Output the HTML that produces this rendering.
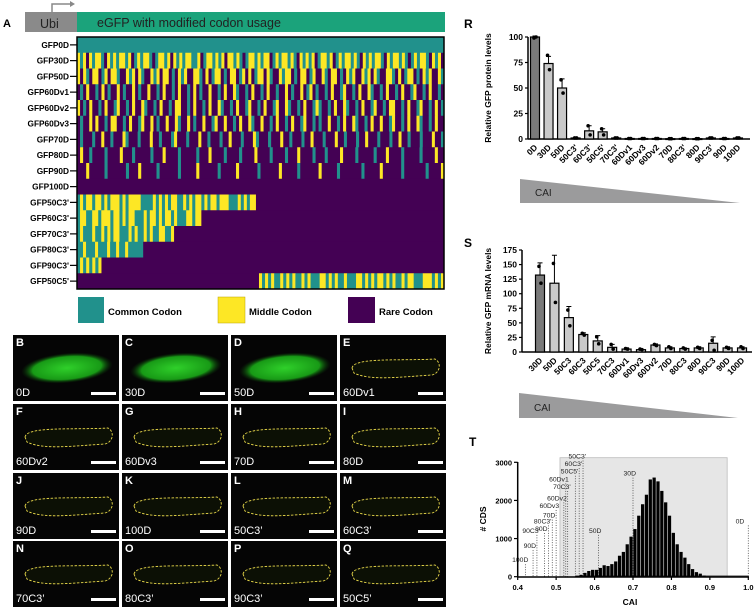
<!DOCTYPE html>
<html><head><meta charset="utf-8">
<style>
html,body{margin:0;padding:0;background:#fff;}
svg{display:block;font-family:"Liberation Sans",Arial,sans-serif;}
</style></head>
<body>
<svg id="fig" width="755" height="609" viewBox="0 0 755 609" xmlns="http://www.w3.org/2000/svg">
<defs>
<radialGradient id="glow" cx="50%" cy="50%" r="50%">
<stop offset="0" stop-color="#2fd02a"/><stop offset="0.75" stop-color="#189a16"/><stop offset="1" stop-color="#0a3a08" stop-opacity="0"/>
</radialGradient>
</defs>
<text x="3" y="27" font-size="11" font-weight="bold">A</text>
<rect x="25" y="12" width="52" height="20" fill="#8a8a8a"/>
<text x="40" y="28" font-size="12.5" fill="#222">Ubi</text>
<path d="M52 12 V4 H72" fill="none" stroke="#888" stroke-width="1.5"/>
<path d="M70 1 L75 4 L70 7 Z" fill="#888"/>
<rect x="77" y="12" width="368" height="20" fill="#1ba37b"/>
<text x="97" y="27" font-size="12.5" fill="#222">eGFP with modified codon usage</text>
<g id="heat"></g>
<g id="legend">
<rect x="78" y="297" width="26" height="26" fill="#21918c"/>
<text x="108" y="315" font-size="9.5" font-weight="bold">Common Codon</text>
<rect x="218" y="297" width="27" height="26" fill="#fde725" stroke="#bba300" stroke-width="0.5"/>
<text x="249" y="315" font-size="9.5" font-weight="bold">Middle Codon</text>
<rect x="348" y="297" width="27" height="26" fill="#440154"/>
<text x="379" y="315" font-size="9.5" font-weight="bold">Rare Codon</text>
</g>
<g id="photos"></g>
<g id="chartR"></g>
<g id="chartS"></g>
<g id="chartT"></g>
</svg>
<script>
// ---------- Heatmap data ----------
const heatRowNames = ["GFP0D","GFP30D","GFP50D","GFP60Dv1","GFP60Dv2","GFP60Dv3","GFP70D","GFP80D","GFP90D","GFP100D","GFP50C3'","GFP60C3'","GFP70C3'","GFP80C3'","GFP90C3'","GFP50C5'"];
const heatRows = [
"cccccccccccccccccccccccccccccccccccccccccccccccccccccccccccccccccccccccccccccccccccccccccccccccccccccccccccccccccccccccccccc",
"mcmrmcmmcrmcmcmmcmrcmcmmcrcmmcmrmcmcmmccmrcmmcmcmrmmcmcrcmmcmcmmrcmcmmcmcrmcmcmrcmmcmrcmcmmcmcrmcmcmmcrmcmmcmcrcmcmmcrmcmr",
"mrmcrmmrcmrmmcrrmcmrmcrrmcmrmmrcrmcmrrmmcrmrcmmrcrmmrcmrmrcmmrmcrrmcmmrcrmmrcmrrmcrmmrcrmcmrrmcmrmcrrmmcrmrcmmrcrmcmrrmc",
"rcrmrrcrmrcrrmrcrrmrcrrmrrcrmrrcrmrrcrmrcrrmrrcrmrrmcrrcrmrrcrmrrcrrmrcrrmrcmrcrrcrmrrcmrrcrmrrmcrrcrmrrcrmrrcmrrcrmrrcr",
"mrcrmrrcrmrrcmrrcrmrrmcrrcrmrrcrmmrrcrmrrcrmrrmcrrcrmrrcmrrcrmrrcmrrmcrrcrmrrcmcrrcrmrrmcrrcrmrrcmrrcrmmrrcrmrrcmrrcrmrc",
"rcrrmrmrrcrmmrrcrmrrcmrrmrcrrmrrmcrrmrcrrmrrcmrrmrrcrmrrmcrrmrrcrmrrcrmrrcmrrcrcrrmrrcrmrrmcrrcrmrrmrrcmrrcrmrrmcrrcrmrr",
"rcrrrcrrmrrcrrrmcrrrcrrrmrrcrrrcmrrrcrrrmrrcrrrcrrmrrrcrrrmcrrrcrrrmrrcrrrcrrmrrrcrrrmrrcrrrcrrmrrrcrrrcrrmrrcrrrcrrrmrrc",
"rmrrcrrrrcrrrrmrrrcrrrrrcrrrmrrrrcrrrrrcrrrmrrrrcrrrrcrrrrmrrrrcrrrrcrrrmrrrrcrrrcrrrrmrrrrcrrrrrcrrrmrrrrcrrrrrcrrrrmrr",
"rrrmrrrrrcrrrrrrcrrrmrrrrrcrrrrrrcrrrrrmrrrrrrcrrrrrmrrrrrrcrrrrrrmrrrrrcrrrrrrmrrrrrcrrrrrrrcrrrrrmrrrrrrcrrrrrrrcrrrrm",
"rrrrrrrrrrrrrrrrrrrrrrrrrrrrrrrrrrrrrrrrrrrrrrrrrrrrrrrrrrrrrrrrrrrrrrrrrrrrrrrrrrrrrrrrrrrrrrrrrrrrrrrrrrrrrrrrrrrrrrrr",
"cmcmmcmmcmcmmmcmcmmmmccccmcmcmcmmccmcmcmmcmcmmcmmmcccmcmcmmrrrrrrrrrrrrrrrrrrrrrrrrrrrrrrrrrrrrrrrrrrrrrrrrrrrrrrrrrrrrrr",
"cmmccmmcmmmcmmcmcmmcccmcmmcmcmmcmcccmmcmmrrrrrrrrrrrrrrrrrrrrrrrrrrrrrrrrrrrrrrrrrrrrrrrrrrrrrrrrrrrrrrrrrrrrrrrrrrrrrrrr",
"cmcccmccmcmcmmcccmcmccmcmccmmccmrrrrrrrrrrrrrrrrrrrrrrrrrrrrrrrrrrrrrrrrrrrrrrrrrrrrrrrrrrrrrrrrrrrrrrrrrrrrrrrrrrrrrrrrr",
"ccmcccmcccmccmccmcccccrrrrrrrrrrrrrrrrrrrrrrrrrrrrrrrrrrrrrrrrrrrrrrrrrrrrrrrrrrrrrrrrrrrrrrrrrrrrrrrrrrrrrrrrrrrrrrrrrrrr",
"cmcmcmcmrrrrrrrrrrrrrrrrrrrrrrrrrrrrrrrrrrrrrrrrrrrrrrrrrrrrrrrrrrrrrrrrrrrrrrrrrrrrrrrrrrrrrrrrrrrrrrrrrrrrrrrrrrrrrrrr",
"rrrrrrrrrrrrrrrrrrrrrrrrrrrrrrrrrrrrrrrrrrrrrrrrrrrrrrrrrrrrmcmcmccmcmcmccmcmcccmmcmcmccmcccmmcmcmcmmcmcmccmcmmcccmmmcmcm"
];
// ---------- Chart R data (protein) ----------
const rCats = ["0D","30D","50D","50C3'","60C3'","50C5'","70C3'","60Dv1","60Dv3","60Dv2","70D","80C3'","80D","90C3'","90D","100D"];
const rVals = [100,74,50,1,8,7,1,0.5,0.5,0.5,0.3,0.5,0.3,1,0.5,1];
const rErr  = [1,7,9,0.5,5,3,0.5,0.5,0.5,0.5,0.3,0.3,0.3,0.5,0.5,0.5];
const rPtsA = [99,82,58,1,13,10,1,0.5,0.5,0.5,0.3,0.5,0.3,1,0.5,1];
const rPtsB = [100,68,45,1,4,4,1,0.5,0.5,0.5,0.3,0.5,0.3,1,0.5,1];
const rTicks = [0,25,50,75,100];
// ---------- Chart S data (mRNA) ----------
const sCats = ["30D","50D","50C3","60C3","50C5","70C3","60Dv1","60Dv3","60Dv2","70D","80C3","80D","90C3","90D","100D"];
const sVals = [132,118,59,30,19,8,5,4,12,7,6,7,15,7,7];
const sErr  = [21,48,19,3,9,5,2,1,2,2,1,2,11,2,2];
const sPtsA = [147,152,72,32,26,13,6,5,13,9,7,8,20,8,9];
const sPtsB = [118,85,45,29,14,5,5,4,11,6,5,6,3,6,6];
const sTicks = [0,25,50,75,100,125,150,175];
// ---------- Chart T data (histogram) ----------
const tBins = [0.55,0.56,0.57,0.58,0.59,0.60,0.61,0.62,0.63,0.64,0.65,0.66,0.67,0.68,0.69,0.70,0.71,0.72,0.73,0.74,0.75,0.76,0.77,0.78,0.79,0.80,0.81,0.82,0.83,0.84,0.85,0.86,0.87,0.88];
const tCounts = [20,50,100,150,180,180,230,300,280,330,400,550,650,850,1050,1250,1600,1900,2150,2550,2600,2500,2250,1950,1600,1150,850,650,500,330,200,120,80,30];
const tMarkNames = ["100D","90D","90C3'","80D","80C3'","70D","60Dv3","60Dv2","70C3'","60Dv1","50C5'","60C3'","50C3'","50D","30D","0D"];
const tMarkCAI   = [0.42,0.44,0.45,0.47,0.48,0.49,0.50,0.52,0.53,0.525,0.55,0.56,0.57,0.61,0.70,1.0];
const tMarkLabelY= [380,750,1150,1200,1400,1550,1800,2000,2300,2500,2700,2900,3100,1150,2650,1400];
const tXTicks = [0.4,0.5,0.6,0.7,0.8,0.9,1.0];
const tYTicks = [0,1000,2000,3000];

const NS="http://www.w3.org/2000/svg";
function mk(tag, attrs, parent, txt){
  const e=document.createElementNS(NS,tag);
  for(const k in attrs) e.setAttribute(k,attrs[k]);
  if(txt!==undefined) e.textContent=txt;
  parent.appendChild(e); return e;
}

// ---------- Heatmap ----------
(function(){
  const g=document.getElementById('heat');
  const X0=77,X1=444,Y0=37,Y1=289;
  const rh=(Y1-Y0)/heatRows.length;
  const col={c:"#21918c",m:"#fde725",r:"#440154"};
  heatRows.forEach((row,i)=>{
    const cw=(X1-X0)/row.length;
    let j=0;
    while(j<row.length){
      let k=j; while(k<row.length&&row[k]===row[j]) k++;
      const r=mk('rect',{x:X0+j*cw,y:Y0+i*rh,width:(k-j)*cw+0.3,height:rh+0.3,fill:col[row[j]]},g);
      
      
      j=k;
    }
    const t=mk('text',{x:69,y:Y0+i*rh+rh/2+3,'font-size':8.3,'font-weight':'bold','text-anchor':'end'},g,heatRowNames[i]);
    
    
    const tk=mk('line',{x1:70,x2:77,y1:Y0+i*rh+rh/2,y2:Y0+i*rh+rh/2,stroke:'#000','stroke-width':1.2},g);
    
    
  });
  const b=mk('rect',{x:X0,y:Y0,width:X1-X0,height:Y1-Y0,fill:'none',stroke:'#000','stroke-width':1.5},g);
  
  
})();

// ---------- Photos ----------
const photoLetters=["B","C","D","E","F","G","H","I","J","K","L","M","N","O","P","Q"];
const photoNames=["0D","30D","50D","60Dv1","60Dv2","60Dv3","70D","80D","90D","100D","50C3’","60C3’","70C3’","80C3’","90C3’","50C5’"];
(function(){
  const g=document.getElementById('photos');
  const cx=[13,122,231,340], ry=[335,404,473,541];
  for(let i=0;i<16;i++){
    const x=cx[i%4], y=ry[Math.floor(i/4)];
    const p=mk('g',{},g);
    
    
    mk('rect',{x:x,y:y,width:106,height:66,fill:'#050505'},p);
    if(i<3){
      mk('ellipse',{cx:x+54,cy:y+33,rx:46,ry:15,fill:'url(#glow)',transform:`rotate(-5 ${x+54} ${y+33})`},p);
    }else{
      const d=`M${x+12} ${y+33} C${x+14} ${y+22} ${x+60} ${y+26} ${x+95} ${y+24} C${x+102} ${y+28} ${x+100} ${y+38} ${x+92} ${y+40} C${x+60} ${y+42} ${x+30} ${y+46} ${x+14} ${y+38} Z`;
      const o=mk('path',{d:d,fill:'#0c1005',stroke:'#e8d84a','stroke-width':0.9,'stroke-dasharray':'2.5 1.5'},p);
      
      
    }
    mk('text',{x:x+3,y:y+11,'font-size':11,'font-weight':'bold',fill:'#fff'},p,photoLetters[i]);
    mk('text',{x:x+3,y:y+61,'font-size':11,fill:'#fff'},p,photoNames[i]);
    mk('rect',{x:x+78,y:y+57,width:25,height:3,fill:'#fff'},p);
  }
})();

// ---------- Bar charts ----------
function barChart(gid, cats, vals, errs, pa, pb, ticks, o){
  const g=document.getElementById(gid);
  const y=v=>o.y0-(v/o.ymax)*(o.y0-o.y1);
  const x=i=>o.xc0+i*o.step;
  mk('line',{x1:o.ax,x2:o.ax,y1:o.y1,y2:o.y0,stroke:'#000','stroke-width':1.5},g);
  mk('line',{x1:o.ax,x2:o.axEnd,y1:o.y0,y2:o.y0,stroke:'#000','stroke-width':1.5},g);
  ticks.forEach(t=>{
    mk('line',{x1:o.ax-3,x2:o.ax,y1:y(t),y2:y(t),stroke:'#000','stroke-width':1.2},g);
    const tl=mk('text',{x:o.ax-5,y:y(t)+3,'font-size':8.5,'font-weight':'bold','text-anchor':'end'},g,t);
    
    
  });
  const tt=mk('text',{x:0,y:0,'font-size':8.5,'font-weight':'bold','text-anchor':'middle',transform:`translate(${o.titleX} ${(o.y0+o.y1)/2}) rotate(-90)`},g,o.title);
  
  
  cats.forEach((c,i)=>{
    const bw=9;
    const bar=mk('rect',{x:x(i)-bw/2,y:y(vals[i]),width:bw,height:Math.max(0.8,o.y0-y(vals[i])),fill:i===0?'#7a7a7a':'#c9c9c9',stroke:'#000','stroke-width':1.2},g);
    
    
    const top=y(vals[i]+errs[i]);
    const eb=mk('path',{d:`M${x(i)} ${y(vals[i])} V${top} M${x(i)-2.5} ${top} H${x(i)+2.5}`,stroke:'#000','stroke-width':1,fill:'none'},g);
    
    
    [pa[i],pb[i]].forEach((v,k)=>{
      const pt=mk('circle',{cx:x(i)+(k?1:-1),cy:y(v),r:1.8,fill:'#000'},g);
      
      
    });
    const lb=mk('text',{x:0,y:0,'font-size':8.5,'font-weight':'bold','text-anchor':'end',transform:`translate(${x(i)+3} ${o.y0+9}) rotate(-45)`},g,c);
    
    
  });
  const tri=mk('path',{d:`M${o.triX0} ${o.triY0} L${o.triX1} ${o.triY1} L${o.triX0} ${o.triY1} Z`,fill:'#9b9b9c'},g);
  
  
  const ct=mk('text',{x:o.triX0+15,y:o.triY1-7,'font-size':10,fill:'#222'},g,'CAI');
  
  
  const pl=mk('text',{x:o.plX,y:o.plY,'font-size':12,'font-weight':'bold'},g,o.panel);
  
  
}
barChart('chartR',rCats,rVals,rErr,rPtsA,rPtsB,rTicks,{
  y0:139,y1:37,ymax:100,ax:528,axEnd:750,xc0:535,step:13.53,title:'Relative GFP protein levels',titleX:491,
  triX0:520,triX1:740,triY0:179,triY1:203,panel:'R',plX:464,plY:28});
barChart('chartS',sCats,sVals,sErr,sPtsA,sPtsB,sTicks,{
  y0:352,y1:250,ymax:175,ax:522,axEnd:752,xc0:540,step:14.43,title:'Relative GFP mRNA levels',titleX:491,
  triX0:519,triX1:738,triY0:393,triY1:418,panel:'S',plX:464,plY:247});

// ---------- Histogram ----------
(function(){
  const g=document.getElementById('chartT');
  const X=v=>517.7+(v-0.4)/0.6*(748.3-517.7);
  const Y=v=>576.7-v/3000*(576.7-462.3);
  const sh=mk('rect',{x:X(0.51),y:457.7,width:X(0.945)-X(0.51),height:576.7-457.7,fill:'#e6e6e6',stroke:'#bbb','stroke-width':0.8},g);
  
  
  tMarkNames.forEach((n,i)=>{
    const xx=X(tMarkCAI[i]), ly=Y(tMarkLabelY[i]);
    const l=mk('line',{x1:xx,x2:xx,y1:ly+2,y2:576.7,stroke:'#444','stroke-width':0.8,'stroke-dasharray':'1 1.5'},g);
    
    
    const t=mk('text',{x:xx+(i===15?-4:3),y:ly,'font-size':6.8,fill:'#222','text-anchor':'end'},g,n);
    
    
  });
  const bw=X(0.41)-X(0.4);
  tBins.forEach((b,i)=>{
    const r=mk('rect',{x:X(b)+0.3,y:Y(tCounts[i]),width:bw-0.6,height:576.7-Y(tCounts[i]),fill:'#000'},g);
    
    
  });
  mk('line',{x1:X(0.55),x2:X(1.0),y1:576,y2:576,stroke:'#000','stroke-width':0.8},g);
  mk('line',{x1:517.7,x2:517.7,y1:462,y2:577,stroke:'#000','stroke-width':1.5},g);
  mk('line',{x1:517.7,x2:749,y1:577,y2:577,stroke:'#000','stroke-width':1.5},g);
  tYTicks.forEach(t=>{
    mk('line',{x1:514,x2:517.7,y1:Y(t),y2:Y(t),stroke:'#000','stroke-width':1.2},g);
    const tl=mk('text',{x:512,y:Y(t)+3,'font-size':7.5,'font-weight':'bold','text-anchor':'end'},g,t);
    
    
  });
  tXTicks.forEach(t=>{
    mk('line',{x1:X(t),x2:X(t),y1:577,y2:580,stroke:'#000','stroke-width':1.2},g);
    const tl=mk('text',{x:X(t),y:590,'font-size':7.5,'font-weight':'bold','text-anchor':'middle'},g,t.toFixed(1));
    
    
  });
  const xt=mk('text',{x:630,y:605,'font-size':8.5,'font-weight':'bold','text-anchor':'middle'},g,'CAI');
  
  
  const yt=mk('text',{x:0,y:0,'font-size':8.5,'font-weight':'bold','text-anchor':'middle',transform:'translate(486 519) rotate(-90)'},g,'# CDS');
  
  
  const pl=mk('text',{x:469,y:446,'font-size':12,'font-weight':'bold'},g,'T');
  
  
})();
</script>
</body></html>
